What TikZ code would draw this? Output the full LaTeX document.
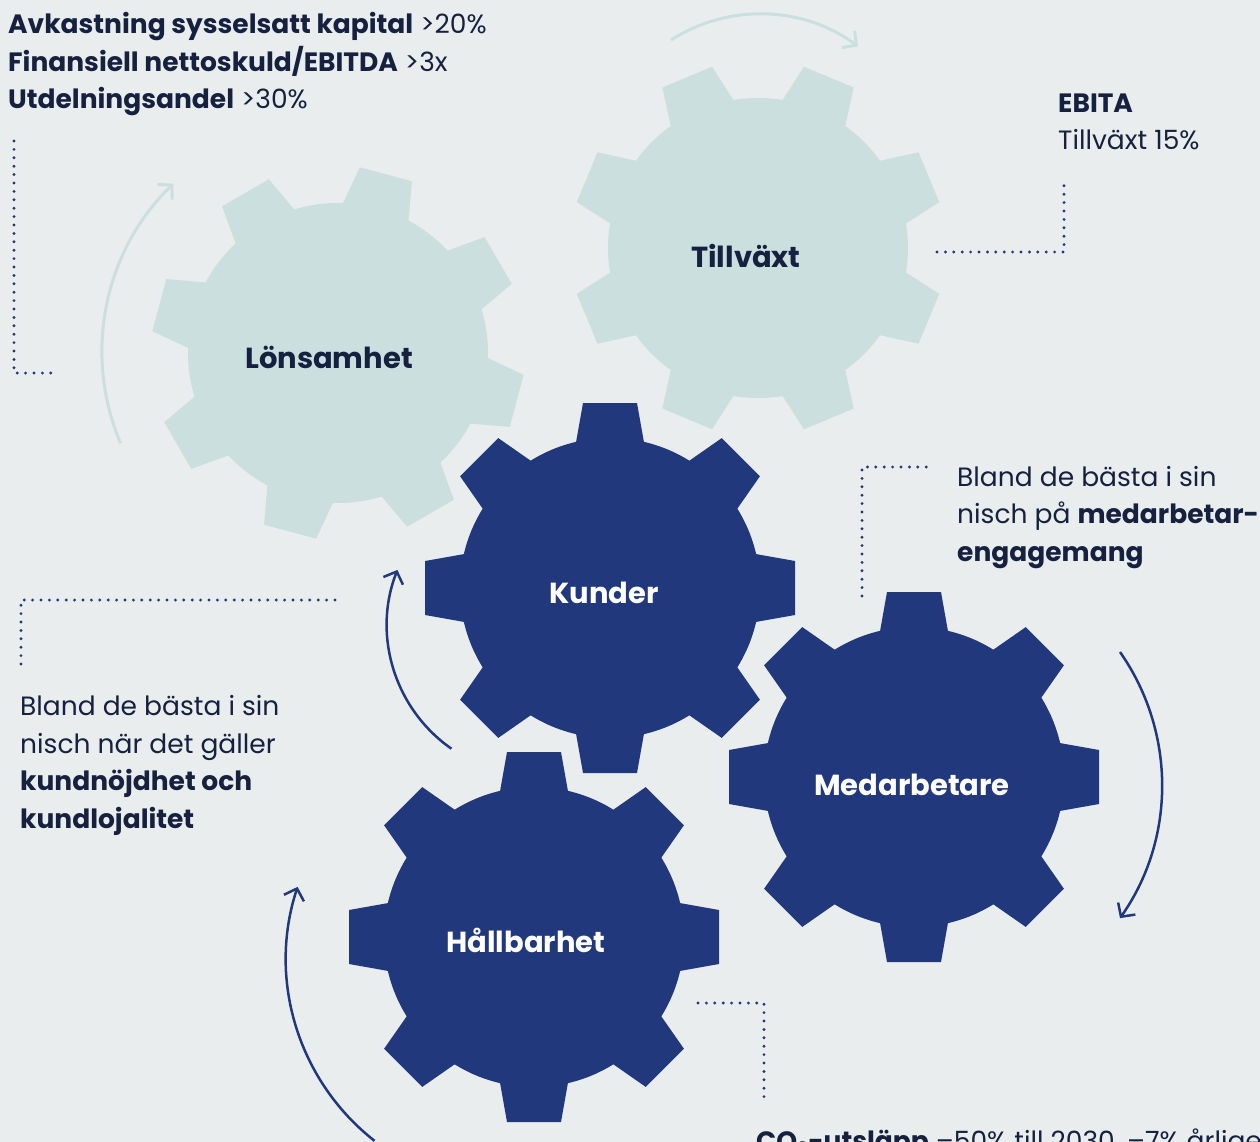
\documentclass[tikz,border=0pt]{standalone}
\usepackage{fontspec}
\setmainfont{Poppins}
\usetikzlibrary{arrows.meta,positioning}

\definecolor{bgcol}{RGB}{233,237,238}
\definecolor{cogpale}{RGB}{204,223,223}
\definecolor{cognavy}{RGB}{33,56,124}
\definecolor{inkdark}{RGB}{22,33,63}

\begin{document}
\begin{tikzpicture}[x=1pt, y=-1pt,
    dotline/.style={cognavy, line width=3.2pt, line cap=round, dash pattern=on 0pt off 8.4pt},
    turnarrow/.style={cognavy, line width=2.5pt, -{Straight Barb[length=10pt, width=21pt]}},
    paleturn/.style={turnarrow, cogpale, line width=3pt},
    cogtext/.style={anchor=base, inner sep=0pt, font=\fontsize{29}{34}\selectfont\bfseries},
    note/.style={inkdark, align=left, anchor=base west, inner sep=0pt, font=\fontsize{26.5}{37.5}\selectfont}]

    % 1. Page and background
    \useasboundingbox (0,0) rectangle (1260,1142);
    \fill[bgcol] (0,0) rectangle (1260,1142);
    \clip (0,0) rectangle (1260,1142);

    % 2. The five cogs: centre x / centre y / turn / colour
    \foreach \cx/\cy/\turn/\tone in {338/353/-15/cogpale, 758/248/22.5/cogpale,
        610/588/0/cognavy, 914/777/0/cognavy, 534/937/0/cognavy}{
        \begin{scope}[shift={(\cx,\cy)}]
            \fill[\tone] (0,0) circle (150);
            \foreach \a in {0,45,...,315}
                \fill[\tone, rotate=\a+\turn] (140,-35) -- (185,-27) -- (185,27) -- (140,35) -- cycle;
        \end{scope}
    }

    % 3. Cog labels
    \node[cogtext, inkdark] (lonsamhet) at (329,368) {Lönsamhet};
    \node[cogtext, inkdark] (tillvaxt) at (746,267) {Tillväxt};
    \node[cogtext, white] (kunder) at (604,603) {Kunder};
    \node[cogtext, white] (medarbetare) at (912,795) {Medarbetare};
    \node[cogtext, white] (hallbarhet) at (526,952) {Hållbarhet};

    % 4. Texts around the cogs (placed by the baseline of their last line)
    \node[note] (kpi) at (8,109) {\textbf{Avkastning sysselsatt kapital} >20\%\\
        \textbf{Finansiell nettoskuld/EBITDA} >3x\\
        \textbf{Utdelningsandel} >30\%};
    \node[note] (ebita) at (1058,150) {\textbf{EBITA}\\Tillväxt 15\%};
    \node[note] (medtext) at (957,561) {Bland de bästa i sin\\
        nisch på \textbf{medarbetar-}\\
        \textbf{engagemang}};
    \node[note] (kundtext) at (20,828) {Bland de bästa i sin\\
        nisch när det gäller\\
        \textbf{kundnöjdhet och}\\
        \textbf{kundlojalitet}};
    \node[note] (co2) at (756,1150) {\textbf{CO\textsubscript{2}-utsläpp} –50\% till 2030, –7\% årligen};

    % 5. Dotted brackets
    \coordinate (kpiTop) at (14,141);
    \coordinate (kpiEnd) at (54,373);
    \draw[dotline] (kpiTop) |- (kpiEnd);
    \coordinate (growA) at (937,252);
    \coordinate (growB) at (1064,180);
    \draw[dotline] (growA) -| (growB);
    \coordinate (custA) at (21,664);
    \coordinate (custB) at (337,600);
    \draw[dotline] (custA) |- (custB);
    \coordinate (staffA) at (862,596);
    \coordinate (staffB) at (927,467);
    \draw[dotline] (staffA) |- (staffB);
    \coordinate (co2A) at (698,1003);
    \coordinate (co2B) at (764,1097);
    \draw[dotline] (co2A) -| (co2B);

    % 6. Turning arrows round the cogs
    \draw[paleturn] (671,40) arc[start angle=-122.6, end angle=-53.5, radius=165];
    \draw[paleturn] (120.6,443.4) arc[start angle=157, end angle=226, radius=234];
    \draw[turnarrow] (451.4,748.7) arc[start angle=125, end angle=201.4, radius=151];
    \draw[turnarrow] (1120,652) arc[start angle=-35, end angle=35, radius=232];
    \draw[turnarrow] (374.5,1140.8) arc[start angle=128.1, end angle=198.2, radius=231];
\end{tikzpicture}
\end{document}
